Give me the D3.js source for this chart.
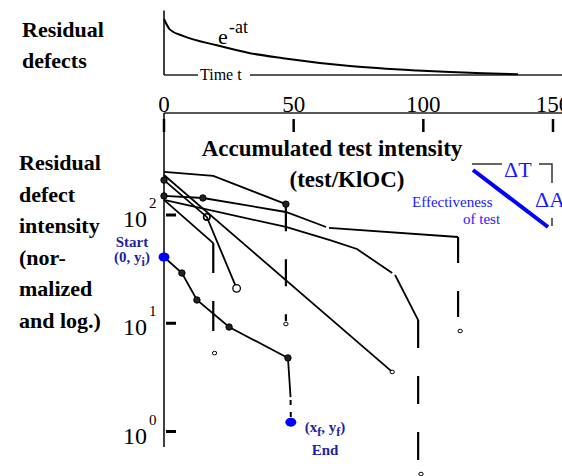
<!DOCTYPE html>
<html lang="en">
<head>
    <meta charset="UTF-8">
    <title>Residual defect intensity</title>
    <script src="https://cdn.jsdelivr.net/npm/d3@7"></script>
</head>

<style>
    html, body {
        margin: 0;
        padding: 0;
        background: #fff;
    }

    svg text {
        font-family: "Liberation Serif", "Times New Roman", serif;
    }
</style>
<body>
<svg id="chart" width="562" height="476"></svg>

<script>
    // axis values
    var xTicks = [0, 50, 100, 150]
    var yTicks = [1, 10, 100]
    var yExponents = ['0', '1', '2']

    // inset: residual defects over time, [t, relative value]
    var decayCurve = [[0, 1], [2.3, 0.81], [7.3, 0.70], [20.4, 0.53], [33.2, 0.39], [45.9, 0.30],
        [71.7, 0.16], [97.6, 0.08], [123, 0.03], [136.5, 0.015]]

    // traces, [accumulated test intensity, residual defect intensity]
    var traceA = [[0, 250], [19, 230], [47, 126]]
    var traceB = [[0, 210], [16.5, 96], [28, 21]]
    var traceC = [[0, 138], [19, 55]]
    var traceD = [[0, 234], [88, 3.55]]
    var traceE1 = [[0, 138], [47, 77.5], [64, 58.7], [74.4, 48.5], [88, 29.1]]
    var traceE2 = [[89.1, 27.9], [98, 10.7]]
    var traceF1 = [[0, 150], [15, 143.6], [47, 106.6], [62.5, 77.5]]
    var traceF2 = [[63.6, 75.9], [113.4, 62.6]]
    var traceMain = [[0, 40.9], [6.9, 29.1], [12.7, 16.4], [25.1, 9.23], [47.8, 4.78], [48.8, 2.08]]
    var traceMainTail = [[48.8, 2.08], [48.9, 1.3]]

    // dashed drops: [x, from, to]
    var drops = [[47, 126, 10.5], [19, 55, 8.3], [98, 10.7, 0.545], [113.4, 62.6, 11.2]]
    var dropDash = ['27,28', '30,28', '28,28', '26,28']

    // markers
    var solidDots = [[47, 126], [0, 210], [0, 150], [15, 143.6], [6.9, 29.1], [12.7, 16.4], [25.1, 9.23], [47.8, 4.78]]
    var openRings = [[16.5, 96]]
    var hollowDots = [[28, 21]]
    var tinyRings = [[47, 9.84], [19.5, 5.3], [88, 3.55], [114.2, 8.48], [99.1, 0.405]]
    var startEnd = [[0, 40.9], [48.9, 1.22]]

    var blue = '#1f1fa3'
    var brightBlue = '#1a1aff'

    var svg = d3.select('#chart')
    var x = d3.scaleLinear().domain([0, 150]).range([164, 553])
    var y = d3.scaleLog().domain([1, 100]).range([431.5, 215])
    var yInset = d3.scaleLinear().domain([0, 1]).range([75, 19])

    var line = d3.line().x(function (d) { return x(d[0]) }).y(function (d) { return y(d[1]) })

    //
    // inset
    //
    svg.append('line').attr('x1', x(0)).attr('x2', x(0))
        .attr('y1', yInset(1.15)).attr('y2', yInset(0))
        .attr('stroke', '#000').attr('stroke-width', 1.5)
    svg.append('line').attr('x1', x(0)).attr('x2', 198).attr('y1', yInset(0)).attr('y2', yInset(0))
        .attr('stroke', '#222').attr('stroke-width', 1.5)
    svg.append('line').attr('x1', 250).attr('x2', 562).attr('y1', yInset(0)).attr('y2', yInset(0))
        .attr('stroke', '#222').attr('stroke-width', 1.5)
    svg.append('text').attr('x', 200).attr('y', 80).attr('font-size', 16).text('Time t')

    svg.append('path').datum(decayCurve)
        .attr('d', d3.line().curve(d3.curveMonotoneX)
            .x(function (d) { return x(d[0]) }).y(function (d) { return yInset(d[1]) }))
        .attr('fill', 'none').attr('stroke', '#000').attr('stroke-width', 2)

    svg.append('text').attr('x', 218).attr('y', 44).attr('font-size', 22).text('e')
    svg.append('text').attr('x', 229).attr('y', 33).attr('font-size', 18).text('-at')

    svg.append('text').attr('x', 22).attr('y', 37).attr('font-size', 22).attr('font-weight', 'bold').text('Residual')
    svg.append('text').attr('x', 22).attr('y', 68).attr('font-size', 22).attr('font-weight', 'bold').text('defects')

    //
    // axes
    //
    svg.append('line').attr('x1', x(0)).attr('x2', 562).attr('y1', 113).attr('y2', 113)
        .attr('stroke', '#222').attr('stroke-width', 1.5)
    svg.selectAll('.xtick').data(xTicks).enter().append('line')
        .attr('x1', x).attr('x2', x).attr('y1', 119).attr('y2', 132)
        .attr('stroke', '#000').attr('stroke-width', 2.5)
    svg.selectAll('.xlabel').data(xTicks).enter().append('text')
        .attr('x', x).attr('y', 112).attr('text-anchor', 'middle').attr('font-size', 23)
        .text(function (d) { return d })

    svg.append('line').attr('x1', x(0)).attr('x2', x(0)).attr('y1', 113).attr('y2', 447)
        .attr('stroke', '#000').attr('stroke-width', 1.5)
    svg.selectAll('.ytick').data(yTicks).enter().append('line')
        .attr('x1', 166).attr('x2', 176).attr('y1', y).attr('y2', y)
        .attr('stroke', '#000').attr('stroke-width', 3)
    svg.selectAll('.ylabel').data(yTicks).enter().append('text')
        .attr('x', 147).attr('y', function (d) { return y(d) + 12 })
        .attr('text-anchor', 'end').attr('font-size', 24).text('10')
    svg.selectAll('.yexp').data(yTicks).enter().append('text')
        .attr('x', 149).attr('y', function (d) { return y(d) - 7 })
        .attr('font-size', 15).text(function (d, i) { return yExponents[i] })

    svg.append('text').attr('x', 332).attr('y', 156).attr('text-anchor', 'middle')
        .attr('font-size', 23).attr('font-weight', 'bold').text('Accumulated test intensity')
    svg.append('text').attr('x', 347).attr('y', 187).attr('text-anchor', 'middle')
        .attr('font-size', 23).attr('font-weight', 'bold').text('(test/KlOC)')

    var leftLabel = ['Residual', 'defect', 'intensity', '(nor-', 'malized', 'and log.)']
    svg.selectAll('.leftlabel').data(leftLabel).enter().append('text')
        .attr('x', 19).attr('y', function (d, i) { return 170 + i * 31.6 })
        .attr('font-size', 22).attr('font-weight', 'bold').text(function (d) { return d })

    //
    // traces
    //
    var traces = [traceA, traceB, traceC, traceD, traceE1, traceE2, traceF1, traceF2, traceMain]
    svg.selectAll('.trace').data(traces).enter().append('path')
        .attr('d', line).attr('fill', 'none').attr('stroke', '#000').attr('stroke-width', 1.8)

    svg.selectAll('.drop').data(drops).enter().append('line')
        .attr('x1', function (d) { return x(d[0]) }).attr('x2', function (d) { return x(d[0]) })
        .attr('y1', function (d) { return y(d[1]) }).attr('y2', function (d) { return y(d[2]) })
        .attr('stroke', '#000').attr('stroke-width', 2.2)
        .attr('stroke-dasharray', function (d, i) { return dropDash[i] })

    svg.append('path').datum(traceMainTail).attr('d', line)
        .attr('fill', 'none').attr('stroke', '#000').attr('stroke-width', 2)
        .attr('stroke-dasharray', '0,3,5,7,5,100')

    svg.selectAll('.dot').data(solidDots).enter().append('circle')
        .attr('cx', function (d) { return x(d[0]) }).attr('cy', function (d) { return y(d[1]) })
        .attr('r', 3.2).attr('fill', '#222').attr('stroke', '#000').attr('stroke-width', 1)
    svg.selectAll('.ring').data(openRings).enter().append('circle')
        .attr('cx', function (d) { return x(d[0]) }).attr('cy', function (d) { return y(d[1]) })
        .attr('r', 3.2).attr('fill', 'none').attr('stroke', '#000').attr('stroke-width', 1.6)
    svg.selectAll('.hollow').data(hollowDots).enter().append('circle')
        .attr('cx', function (d) { return x(d[0]) }).attr('cy', function (d) { return y(d[1]) })
        .attr('r', 3.8).attr('fill', '#fff').attr('stroke', '#000').attr('stroke-width', 1.3)
    svg.selectAll('.tiny').data(tinyRings).enter().append('ellipse')
        .attr('cx', function (d) { return x(d[0]) }).attr('cy', function (d) { return y(d[1]) })
        .attr('rx', 2.2).attr('ry', 1.8).attr('fill', '#fff').attr('stroke', '#000').attr('stroke-width', 1)
    svg.selectAll('.se').data(startEnd).enter().append('ellipse')
        .attr('cx', function (d) { return x(d[0]) }).attr('cy', function (d) { return y(d[1]) })
        .attr('rx', 5.5).attr('ry', 4.5).attr('fill', '#0000ff')

    // start / end labels
    svg.append('text').attr('x', 132).attr('y', 247).attr('text-anchor', 'middle')
        .attr('font-size', 15).attr('font-weight', 'bold').attr('fill', blue).text('Start')
    var t0 = svg.append('text').attr('x', 132).attr('y', 262).attr('text-anchor', 'middle')
        .attr('font-size', 15).attr('font-weight', 'bold').attr('fill', blue)
    t0.append('tspan').text('(0, y')
    t0.append('tspan').attr('font-size', 12).attr('dy', 4).text('i')
    t0.append('tspan').attr('dy', -4).text(')')

    var t1 = svg.append('text').attr('x', 325).attr('y', 432).attr('text-anchor', 'middle')
        .attr('font-size', 15).attr('font-weight', 'bold').attr('fill', blue)
    t1.append('tspan').text('(x')
    t1.append('tspan').attr('font-size', 12).attr('dy', 4).text('f')
    t1.append('tspan').attr('dy', -4).text(', y')
    t1.append('tspan').attr('font-size', 12).attr('dy', 4).text('f')
    t1.append('tspan').attr('dy', -4).text(')')
    svg.append('text').attr('x', 325).attr('y', 455).attr('text-anchor', 'middle')
        .attr('font-size', 15).attr('font-weight', 'bold').attr('fill', blue).text('End')

    //
    // effectiveness of test sketch
    //
    svg.append('line').attr('x1', 472).attr('x2', 502).attr('y1', 164).attr('y2', 164)
        .attr('stroke', '#333').attr('stroke-width', 1.5)
    svg.append('polyline').attr('points', '539,164 552,164 552,183')
        .attr('fill', 'none').attr('stroke', '#333').attr('stroke-width', 1.5)
    svg.append('line').attr('x1', 552).attr('x2', 552).attr('y1', 218).attr('y2', 226)
        .attr('stroke', '#333').attr('stroke-width', 1.5)
    svg.append('line').attr('x1', 473).attr('x2', 548).attr('y1', 170).attr('y2', 227)
        .attr('stroke', '#0000ff').attr('stroke-width', 4)
    svg.append('text').attr('x', 504).attr('y', 177).attr('font-size', 22).attr('fill', brightBlue).text('\u0394T')
    svg.append('text').attr('x', 535).attr('y', 207).attr('font-size', 22).attr('fill', brightBlue).text('\u0394A')
    svg.append('text').attr('x', 412).attr('y', 207).attr('font-size', 15).attr('fill', brightBlue).text('Effectiveness')
    svg.append('text').attr('x', 463).attr('y', 224).attr('font-size', 15).attr('fill', brightBlue).text('of test')
</script>
</body>
</html>
